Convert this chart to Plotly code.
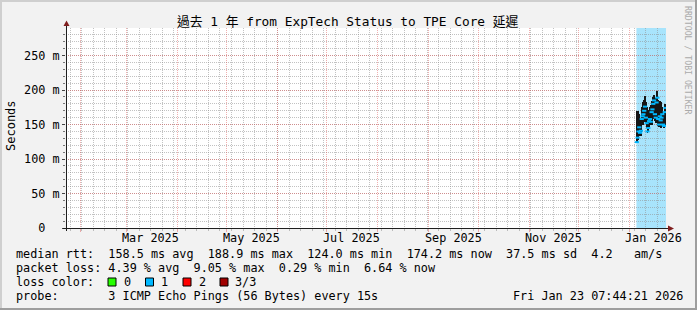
import plotly.graph_objects as go
import pandas as pd

# ---------------- data ----------------
end_time = pd.Timestamp("2026-01-23 07:44:21")
start_time = end_time - pd.Timedelta(days=365)

bin_start = pd.date_range("2026-01-05 07:44:21", periods=36, freq="12h")
smoke_lo_ms = [124, 128, 135, 136, 133, 134, 152, 150, 149, 153, 157, 152,
               145, 138, 140, 147, 152, 150, 152, 150, 158, 164, 155, 152,
               160, 162, 148, 146, 150, 145, 152, 155, 146, 145, 150, 152]
smoke_hi_ms = [170, 169, 168, 165, 160, 158, 176, 180, 182, 186, 191, 183,
               176, 174, 168, 171, 176, 178, 184, 186, 190, 193, 188, 185,
               196, 198, 186, 182, 184, 183, 178, 176, 165, 164, 180, 178]
median_ms = [124.5, 131, 140, 146, 138, 141, 158, 162, 165, 170, 176, 160,
             152, 140, 145, 155, 158, 154, 168, 172, 180, 185, 165, 160,
             182, 188.9, 158, 150, 162, 156, 160, 165, 150, 148, 168, 174.2]

y_tick_vals = [0, 0.05, 0.10, 0.15, 0.20, 0.25]
y_tick_text = ["0\u00a0\u00a0", "50 m", "100 m", "150 m", "200 m", "250 m"]
y_minor_vals = [i / 100 for i in range(0, 29)]
y_max = 0.29

month_starts = pd.date_range("2025-02-01", "2026-01-01", freq="MS")
week_lines = pd.date_range("2025-01-26", "2026-01-18", freq="7D")
x_label_dates = pd.to_datetime(["2025-03-16", "2025-05-16", "2025-07-16",
                                "2025-09-16", "2025-11-16", "2026-01-16"])
x_label_text = ["Mar 2025", "May 2025", "Jul 2025", "Sep 2025", "Nov 2025", "Jan 2026"]

title_text = "過去 1 年 from ExpTech Status to TPE Core 延遲"
row_median = "median rtt:  158.5 ms avg  188.9 ms max  124.0 ms min  174.2 ms now  37.5 ms sd  4.2   am/s"
row_loss = "packet loss: 4.39 % avg  9.05 % max  0.29 % min  6.64 % now"
row_probe = "probe:       3 ICMP Echo Pings (56 Bytes) every 15s"
stamp = "Fri Jan 23 07:44:21 2026"
loss_labels = ["0", "1", "2", "3/3"]
loss_colors = ["#26ff00", "#00b8ff", "#ff0000", "#a00000"]

# ---------------- layout helpers ----------------
W, H = 697, 310
L, R, T, B = 66, 31, 28, 82
PW, PH = W - L - R, H - T - B


def px(x):
    return (x - L) / PW


def py(y):
    return (H - B - y) / PH


def nb(s):
    return s.replace(" ", "\u00a0")


MONO = "DejaVu Sans Mono, Noto Sans CJK TC, monospace"
GRID = "rgba(143,143,143,0.55)"
MGRID = "rgba(222,79,79,0.45)"

bin_w = pd.Timedelta(hours=12)
centers = bin_start + bin_w / 2

fig = go.Figure()
fig.add_trace(go.Bar(
    x=centers, base=[v / 1000 for v in smoke_lo_ms],
    y=[(h - l) / 1000 for h, l in zip(smoke_hi_ms, smoke_lo_ms)],
    width=bin_w.total_seconds() * 1000,
    marker=dict(color="#161616", line=dict(width=0)),
    hoverinfo="skip", showlegend=False))
fig.add_trace(go.Scatter(
    x=centers, y=[v / 1000 for v in median_ms],
    mode="markers",
    marker=dict(symbol="line-ew", size=3, color="#00b8ff",
                line=dict(color="#00b8ff", width=2)),
    hoverinfo="skip", showlegend=False))

shapes = []
# light blue data-span background (below grid)
shapes.append(dict(type="rect", xref="x", yref="paper", x0=bin_start[0], x1=end_time,
                   y0=0, y1=1, fillcolor="#a8e4fc", line=dict(width=0), layer="below"))
# frame shading
shapes += [
    dict(type="rect", xref="paper", yref="paper", x0=px(0), x1=px(W), y0=py(0), y1=py(2),
         fillcolor="#cfcfcf", line=dict(width=0)),
    dict(type="rect", xref="paper", yref="paper", x0=px(0), x1=px(2), y0=py(0), y1=py(H),
         fillcolor="#cfcfcf", line=dict(width=0)),
    dict(type="rect", xref="paper", yref="paper", x0=px(0), x1=px(W), y0=py(H - 2), y1=py(H),
         fillcolor="#9e9e9e", line=dict(width=0)),
    dict(type="rect", xref="paper", yref="paper", x0=px(W - 2), x1=px(W), y0=py(0), y1=py(H),
         fillcolor="#9e9e9e", line=dict(width=0)),
]
# axes lines
shapes.append(dict(type="line", xref="paper", yref="paper", x0=px(63), x1=px(668),
                   y0=py(228.5), y1=py(228.5), line=dict(color="#1f1f1f", width=1)))
shapes.append(dict(type="line", xref="paper", yref="paper", x0=px(66.5), x1=px(66.5),
                   y0=py(231), y1=py(25), line=dict(color="#1f1f1f", width=1)))
# arrows
shapes.append(dict(type="path", xref="paper", yref="paper",
                   path=f"M {px(668)},{py(225.5)} L {px(674)},{py(228.5)} L {px(668)},{py(231.5)} Z",
                   fillcolor="#801f1f", line=dict(width=0)))
shapes.append(dict(type="path", xref="paper", yref="paper",
                   path=f"M {px(63.5)},{py(26)} L {px(66.5)},{py(20.5)} L {px(69.5)},{py(26)} Z",
                   fillcolor="#801f1f", line=dict(width=0)))
# loss colour squares
sq_x = [108, 145.5, 183, 220]
for xx, c in zip(sq_x, loss_colors):
    shapes.append(dict(type="rect", xref="paper", yref="paper", x0=px(xx), x1=px(xx + 8),
                       y0=py(278), y1=py(286), fillcolor=c, line=dict(color="#000000", width=1)))

ann = []


def text(x, y, s, size=11.8, xanchor="left", color="#000000", angle=0, yanchor="middle"):
    ann.append(dict(xref="paper", yref="paper", x=px(x), y=py(y), text=nb(s), showarrow=False,
                    xanchor=xanchor, yanchor=yanchor, textangle=angle, borderpad=0, borderwidth=0,
                    font=dict(family=MONO, size=size, color=color)))


text(348.3, 21, title_text, size=12.8, xanchor="center")
text(15.5, 254.3, row_median)
text(15.5, 268.3, row_loss)
text(15.5, 282.3, "loss color:")
for xx, lab in zip(sq_x, loss_labels):
    text(xx + 15.5, 282.3, lab)
text(15.5, 296, row_probe)
text(683, 296, stamp, xanchor="right")
text(11, 126, "Seconds", size=12, xanchor="center", angle=-90)
text(688, 60, "RRDTOOL / TOBI OETIKER", size=8.2, xanchor="center", angle=90, color="#aaaaaa")

for d, lab in zip(x_label_dates, x_label_text):
    ann.append(dict(xref="x", yref="paper", x=d, y=py(237.7), text=nb(lab), showarrow=False,
                    xanchor="center", yanchor="middle", borderpad=0, borderwidth=0,
                    font=dict(family=MONO, size=11.8, color="#000000")))

fig.update_layout(
    width=W, height=H, margin=dict(l=L, r=R, t=T, b=B, pad=0),
    paper_bgcolor="#f2f2f2", plot_bgcolor="#ffffff",
    bargap=0, showlegend=False,
    shapes=shapes, annotations=ann,
    xaxis=dict(type="date", range=[start_time, end_time], tickvals=list(month_starts),
               showticklabels=False, showgrid=True, gridcolor=MGRID, griddash="1px,1px",
               gridwidth=1, ticks="outside", ticklen=3, tickcolor=MGRID, zeroline=False,
               showline=False, fixedrange=True,
               minor=dict(tickvals=list(week_lines), showgrid=True, gridcolor=GRID,
                          griddash="1px,1px", ticks="outside", ticklen=2, tickcolor=GRID)),
    yaxis=dict(range=[0, y_max], tickvals=y_tick_vals, ticktext=y_tick_text,
               showgrid=True, gridcolor=MGRID, griddash="1px,1px", gridwidth=1,
               ticks="outside", ticklen=3, tickcolor="#444444", zeroline=False, showline=False,
               tickfont=dict(family=MONO, size=11.8, color="#000000"), fixedrange=True,
               minor=dict(tickvals=y_minor_vals, showgrid=True, gridcolor=GRID,
                          griddash="1px,1px", ticks="outside", ticklen=2, tickcolor="#777777")),
)

fig.write_html("out.html")
